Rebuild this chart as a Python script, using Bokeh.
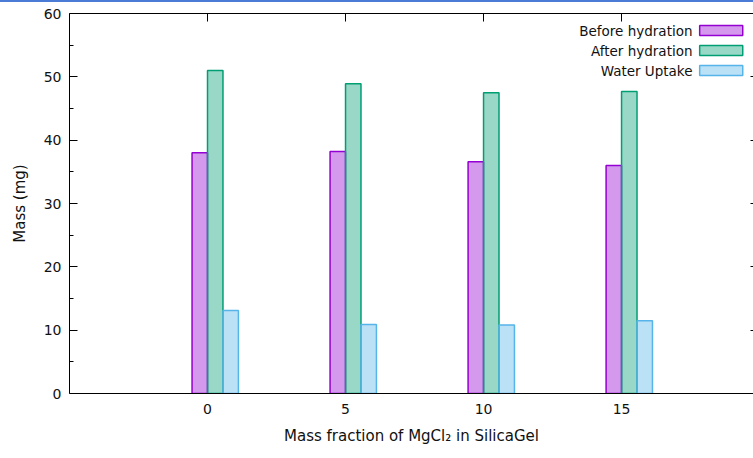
from bokeh.plotting import figure
from bokeh.models import (ColumnDataSource, Range1d, LinearAxis, FixedTicker,
                          Label, BoxAnnotation, CustomLabelingPolicy, Div)
from bokeh.layouts import column
from bokeh.embed import file_html
from bokeh.resources import INLINE

# ---- data ----
fractions = [0, 5, 10, 15]
before_hydration = [38.0, 38.2, 36.6, 36.0]
after_hydration = [51.0, 48.9, 47.5, 47.7]
water_uptake = [13.1, 10.9, 10.8, 11.5]
series_names = ["Before hydration", "After hydration", "Water Uptake"]
y_ticks = [0, 10, 20, 30, 40, 50, 60]
x_ticks = [0, 5, 10, 15]

# ---- styling / layout ----
colors = ["#9400d3", "#009e73", "#56b4e9"]
offsets = [-0.28, 0.28, 0.84]
bar_w = 0.56
X_START, X_END = -5, 19.78
FONT = "DejaVu Sans"
TXT = "#111111"

p = figure(width=753, height=456, output_backend="svg", toolbar_location=None,
           x_range=Range1d(X_START, X_END), y_range=Range1d(0, 60),
           x_axis_location=None, y_axis_location=None)
p.outline_line_color = None
p.xgrid.visible = False
p.ygrid.visible = False
p.min_border_left = 69
p.min_border_top = 11
p.min_border_bottom = 65
p.min_border_right = 0
p.background_fill_color = "white"
p.border_fill_color = "white"

for vals, col, off, name in zip([before_hydration, after_hydration, water_uptake],
                                colors, offsets, series_names):
    src = ColumnDataSource(dict(x=[f + off for f in fractions], top=vals))
    p.vbar(x="x", top="top", bottom=0, width=bar_w, source=src,
           fill_color=col, fill_alpha=0.4, line_color=col, line_width=1.5)

# left axis
ya = LinearAxis(axis_label="Mass (mg)", ticker=FixedTicker(ticks=y_ticks,
                minor_ticks=[5, 15, 25, 35, 45, 55]))
ya.major_tick_in = 8
ya.major_tick_out = 0
ya.minor_tick_in = 4
ya.minor_tick_out = 0
ya.axis_line_color = "black"
ya.major_tick_line_color = "black"
ya.minor_tick_line_color = "black"
ya.major_label_text_font = FONT
ya.major_label_text_font_size = "14px"
ya.major_label_text_color = TXT
ya.major_label_standoff = 8
ya.axis_label_text_font = FONT
ya.axis_label_text_font_size = "15px"
ya.axis_label_text_font_style = "normal"
ya.axis_label_text_color = TXT
ya.axis_label_standoff = 12
p.add_layout(ya, "left")

# bottom axis
xa = LinearAxis(axis_label="Mass fraction of MgCl\u2082 in SilicaGel",
                ticker=FixedTicker(ticks=x_ticks, minor_ticks=[]))
xa.major_tick_in = 0
xa.major_tick_out = 0
xa.axis_line_color = "black"
xa.major_label_text_font = FONT
xa.major_label_text_font_size = "14px"
xa.major_label_text_color = TXT
xa.major_label_standoff = 10
xa.axis_label_text_font = FONT
xa.axis_label_text_font_size = "15px"
xa.axis_label_text_font_style = "normal"
xa.axis_label_text_color = TXT
xa.axis_label_standoff = 10
p.add_layout(xa, "below")

hide_labels = CustomLabelingPolicy(code="""
    for (const i of Array.from(indices)) { indices.unset(i) }
""")

# top border with mirror ticks
ta = LinearAxis(ticker=FixedTicker(ticks=x_ticks, minor_ticks=[]))
ta.major_tick_in = 8
ta.major_tick_out = 0
ta.axis_line_color = "black"
ta.major_label_text_font_size = "0px"
ta.major_label_standoff = 0
ta.major_label_policy = hide_labels
p.add_layout(ta, "above")

# right mirror ticks (the border itself lies just outside the view)
ra = LinearAxis(ticker=FixedTicker(ticks=[10, 20, 30, 40, 50], minor_ticks=[]))
ra.major_tick_in = 3
ra.major_tick_out = 0
ra.axis_line_color = None
ra.major_label_text_font_size = "0px"
ra.major_label_standoff = 0
ra.major_label_policy = hide_labels
p.add_layout(ra, "right")

# legend in gnuplot style: right-aligned text, swatch on the right
leg_text_x = 17.57
sw_left, sw_right = 17.83, 19.39
leg_rows = [57.3, 54.15, 51.0]
sw_half = 0.79
for name, col, yy in zip(series_names, colors, leg_rows):
    p.add_layout(Label(x=leg_text_x, y=yy, text=name, text_align="right",
                       text_baseline="middle", text_font=FONT,
                       text_font_size="13.5px", text_color=TXT))
    p.add_layout(BoxAnnotation(left=sw_left, right=sw_right,
                               bottom=yy - sw_half, top=yy + sw_half,
                               fill_color=col, fill_alpha=0.4,
                               line_color=col, line_width=1.5, line_alpha=1))

top_bar = Div(width=753, height=2, margin=(0, 0, 0, 0),
              styles={"background-color": "#4a7bd6"})
layout = column(top_bar, p, spacing=0)

open("out.html", "w").write(file_html(layout, INLINE))
